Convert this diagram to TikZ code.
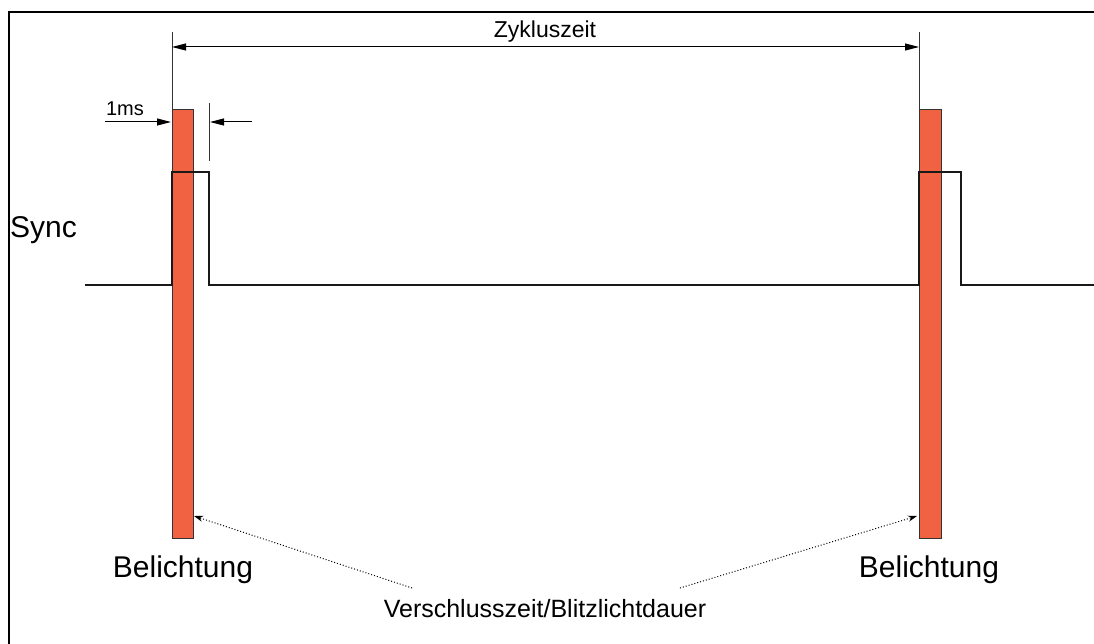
\documentclass[tikz,border=0pt]{standalone}
\usepackage{fontspec}
\setmainfont{Liberation Sans}
\usetikzlibrary{arrows.meta}
\definecolor{barred}{RGB}{240,98,66}
\begin{document}
\begin{tikzpicture}[x=1pt,y=-1pt,
  signal/.style={line width=1.6pt,black!90},
  frameline/.style={line width=1.8pt,black},
  extline/.style={line width=1pt,black!80},
  dimarrow/.style={line width=1pt,-{Triangle[length=14pt,width=7pt]}},
  exposure/.style={draw=black!80,line width=0.9pt,fill=barred},
  biglbl/.style={inner sep=0pt,anchor=base,font=\fontsize{30}{34}\selectfont},
  lbl/.style={inner sep=0pt,anchor=base,font=\fontsize{25}{28}\selectfont},
  smalllbl/.style={inner sep=0pt,anchor=base,font=\fontsize{23}{26}\selectfont},
  hint/.style={line width=1pt,dotted,-{Stealth[length=9pt,width=6pt]}}]
\useasboundingbox (0,0) rectangle (1094,644);
\fill[white] (0,0) rectangle (1094,644);
% frame (top and left edges)
\draw[frameline] (9,644) -- (9,12) -- (1094,12);

% exposure bars
\draw[exposure] (172,109) rectangle (193,538);
\draw[exposure] (919,109) rectangle (941,538);
\coordinate (barL) at (194,516);
\coordinate (barR) at (917,516);

% sync signal
\draw[signal] (85,285) -- (172,285) -- (172,172) -- (209,172) -- (209,285)
  -- (919,285) -- (919,172) -- (961,172) -- (961,285) -- (1094,285);

% cycle time dimension
\coordinate (cycA) at (172,47);
\coordinate (cycB) at (919,47);
\draw[extline] (172,32) -- (172,110);
\draw[extline] (919,32) -- (919,110);
\draw[dimarrow,{Triangle[length=14pt,width=7pt]}-{Triangle[length=14pt,width=7pt]}] (cycA) -- (cycB);
\node[smalllbl] (cyc) at (545,38) {Zykluszeit};

% 1 ms dimension
\draw[extline] (209,103) -- (209,161);
\coordinate (msA) at (105,122);
\coordinate (msAend) at (171,122);
\coordinate (msB) at (252,122);
\coordinate (msBend) at (210,122);
\draw[dimarrow] (msA) -- (msAend);
\draw[dimarrow] (msB) -- (msBend);
\node[smalllbl,font=\fontsize{20}{22}\selectfont] (ms) at (125,116) {1ms};

% labels
\node[biglbl,anchor=base west] (sync) at (10,237) {Sync};
\node[biglbl] (belL) at (183,577) {Belichtung};
\node[biglbl] (belR) at (929,577) {Belichtung};
\node[lbl] (shut) at (545,617) {Verschlusszeit/Blitzlichtdauer};

% hints from the shutter label to the bars
\coordinate (hintL) at (412,588);
\coordinate (hintR) at (680,588);
\draw[hint] (hintL) -- (barL);
\draw[hint] (hintR) -- (barR);
\end{tikzpicture}
\end{document}
